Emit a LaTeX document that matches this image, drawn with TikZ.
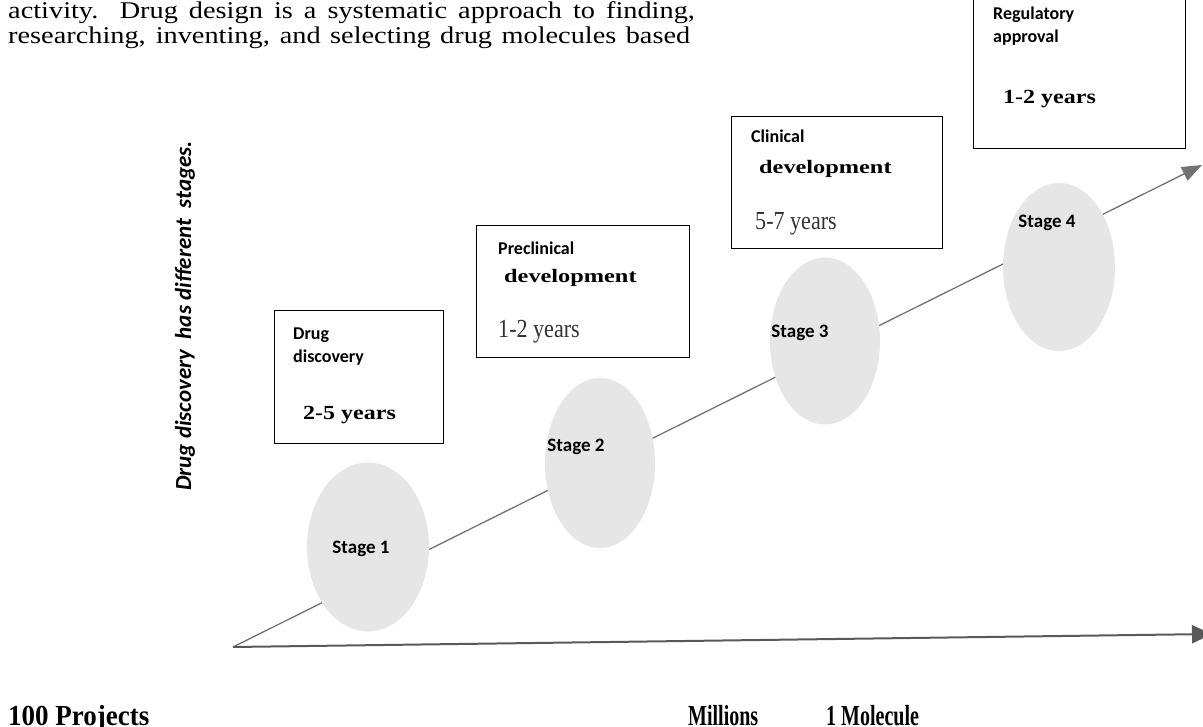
\documentclass[tikz,border=0pt]{standalone}
\usepackage{fontspec}
\setmainfont{Liberation Serif}
\newfontfamily\calib{Carlito}
\usetikzlibrary{arrows.meta,calc,shapes.geometric}

\definecolor{linegray}{HTML}{767171}
\definecolor{basegray}{HTML}{595959}
\definecolor{stagefill}{HTML}{E7E6E6}

\tikzset{
  panel/.style={draw=black, line width=1.1pt, inner sep=0pt, anchor=north west},
  stageoval/.style={ellipse, fill=stagefill, draw=none, inner sep=0pt},
  stagelabel/.style={anchor=base, inner sep=0pt, font=\calib\bfseries\fontsize{19}{22}\selectfont},
  paneltitle/.style={anchor=base west, inner sep=0pt, font=\calib\bfseries\fontsize{18}{21}\selectfont},
  devlabel/.style={anchor=base west, inner sep=0pt},
  yearsplain/.style={anchor=base west, inner sep=0pt, text=black!80},
  yearsbold/.style={anchor=base west, inner sep=0pt},
  bottomlabel/.style={anchor=base west, inner sep=0pt},
  prose/.style={anchor=base west, inner sep=0pt},
}

\newcommand{\devword}{\scalebox{1.28}[1]{\fontsize{19}{22}\selectfont\bfseries development}}
\newcommand{\yrsplain}[1]{\scalebox{0.85}[1]{\fontsize{26}{30}\selectfont #1}}
\newcommand{\yrsbold}[1]{\scalebox{1.2}[1]{\fontsize{20}{24}\selectfont\bfseries #1}}
\newcommand{\tallbold}[1]{\scalebox{1}[1.45]{\fontsize{20}{24}\selectfont\bfseries #1}}
\newcommand{\proseline}[2]{\scalebox{1.18}[1]{\fontsize{24}{28}\selectfont\makebox[#1][s]{#2}}}

\begin{document}
\begin{tikzpicture}[x=1pt, y=-1pt]
  \useasboundingbox (0,0) rectangle (1203,727);

  % running text at the top
  \node[prose] (p1) at (8,19) {\proseline{582pt}{activity. Drug design is a systematic approach to finding,}};
  \node[prose] (p2) at (8,44) {\proseline{578pt}{researching, inventing, and selecting drug molecules based}};

  % axes
  \coordinate (origin) at (233,647);
  \coordinate (uptip) at (1202,165);
  \coordinate (righttip) at (1212,634);
  \draw[linegray, line width=1.3pt, -{Triangle[length=20pt, width=15pt]}] (origin) -- (uptip);
  \draw[basegray, line width=2pt, -{Triangle[length=20pt, width=18pt]}] (origin) -- (righttip);

  % stages along the rising axis
  \node[stageoval, minimum width=122pt, minimum height=169pt] (s1) at (368,547) {};
  \node[stageoval, minimum width=110pt, minimum height=170pt] (s2) at (600,463) {};
  \node[stageoval, minimum width=110pt, minimum height=167pt] (s3) at (825,341) {};
  \node[stageoval, minimum width=112pt, minimum height=168pt] (s4) at (1059,267) {};
  \node[stagelabel] (l1) at (361,553) {Stage 1};
  \node[stagelabel] (l2) at (576,451) {Stage 2};
  \node[stagelabel] (l3) at (800,338) {Stage 3};
  \node[stagelabel] (l4) at (1047,228) {Stage 4};

  % phase panels
  \node[panel, minimum width=169pt, minimum height=133pt] (b1) at (274,310) {};
  \node[panel, minimum width=213pt, minimum height=132pt] (b2) at (476,225) {};
  \node[panel, minimum width=211pt, minimum height=132pt] (b3) at (731,116) {};
  \node[panel, minimum width=212pt, minimum height=153pt] (b4) at (973,-5) {};

  \node[paneltitle] (t1a) at ($(b1.north west)+(19,30)$) {Drug};
  \node[paneltitle] (t1b) at ($(b1.north west)+(19,53)$) {discovery};
  \node[yearsbold] (y1) at ($(b1.north west)+(29,110)$) {\yrsbold{2-5 years}};

  \node[paneltitle] (t2) at ($(b2.north west)+(22,30)$) {Preclinical};
  \node[devlabel] (d2) at ($(b2.north west)+(28,58)$) {\devword};
  \node[yearsplain] (y2) at ($(b2.north west)+(22,113)$) {\yrsplain{1-2 years}};

  \node[paneltitle] (t3) at ($(b3.north west)+(20,27)$) {Clinical};
  \node[devlabel] (d3) at ($(b3.north west)+(28,58)$) {\devword};
  \node[yearsplain] (y3) at ($(b3.north west)+(24,114)$) {\yrsplain{5-7 years}};

  \node[paneltitle] (t4a) at ($(b4.north west)+(20,25)$) {Regulatory};
  \node[paneltitle] (t4b) at ($(b4.north west)+(20,48)$) {approval};
  \node[yearsbold] (y4) at ($(b4.north west)+(30,109)$) {\yrsbold{1-2 years}};

  % side caption
  \node[rotate=90, inner sep=0pt, font=\calib\bfseries\itshape\fontsize{23}{27}\selectfont] (side) at (185,316) {Drug discovery\ \ has different\ \ stages.};

  % figures under the axis
  \node[bottomlabel] (n1) at (8,725) {\scalebox{1.35}[1]{\tallbold{100 Projects}}};
  \node[bottomlabel] (n2) at (688,725) {\tallbold{Millions}};
  \node[bottomlabel] (n3) at (826,725) {\tallbold{1 Molecule}};
\end{tikzpicture}
\end{document}
